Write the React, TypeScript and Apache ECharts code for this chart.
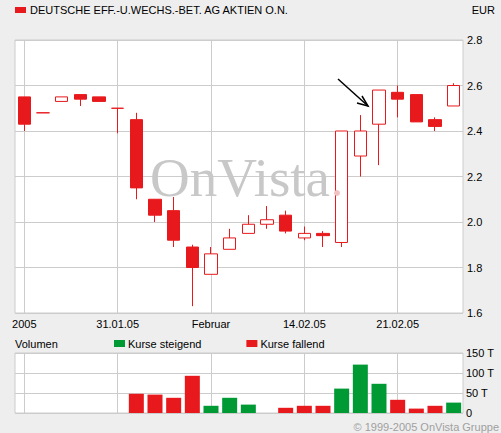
import React, { useEffect, useRef } from "react";
import * as echarts from "echarts";

const dates = [
  "24.01.05", "25.01.05", "26.01.05", "27.01.05", "28.01.05",
  "31.01.05", "01.02.05", "02.02.05", "03.02.05", "04.02.05",
  "07.02.05", "08.02.05", "09.02.05", "10.02.05", "11.02.05",
  "14.02.05", "15.02.05", "16.02.05", "17.02.05", "18.02.05",
  "21.02.05", "22.02.05", "23.02.05", "24.02.05",
];

const tickIndices = [0, 5, 10, 15, 20];
const tickLabels = ["2005", "31.01.05", "Februar", "14.02.05", "21.02.05"];

// [open, close, low, high]
const ohlc: number[][] = [
  [2.55, 2.43, 2.40, 2.55],
  [2.48, 2.48, 2.48, 2.48],
  [2.53, 2.55, 2.53, 2.55],
  [2.56, 2.54, 2.51, 2.56],
  [2.55, 2.53, 2.53, 2.55],
  [2.50, 2.50, 2.39, 2.50],
  [2.45, 2.15, 2.10, 2.48],
  [2.10, 2.03, 2.00, 2.10],
  [2.05, 1.92, 1.89, 2.11],
  [1.89, 1.80, 1.63, 1.90],
  [1.77, 1.86, 1.77, 1.89],
  [1.88, 1.93, 1.88, 1.97],
  [1.95, 1.99, 1.95, 2.03],
  [1.99, 2.01, 1.97, 2.07],
  [2.03, 1.96, 1.95, 2.05],
  [1.93, 1.95, 1.92, 1.98],
  [1.95, 1.94, 1.89, 1.96],
  [1.91, 2.40, 1.89, 2.40],
  [2.29, 2.40, 2.20, 2.47],
  [2.43, 2.58, 2.25, 2.58],
  [2.57, 2.54, 2.46, 2.60],
  [2.56, 2.44, 2.44, 2.56],
  [2.45, 2.42, 2.40, 2.46],
  [2.51, 2.60, 2.51, 2.61],
];

// volume in thousands (T)
const volRising: (number | null)[] = [
  null, null, null, null, null, null, null, null, null, null,
  18, 38, 21, null, null, null, null, 61, 121, 73, null, null, null, 26,
];
const volFalling: (number | null)[] = [
  null, null, null, null, null, null, 48, 46, 38, 93,
  null, null, null, null, 13, 18, 18, null, null, null, 33, 11, 18, null,
];

const priceTicks = { min: 1.6, max: 2.8, interval: 0.2 };
const volTicks = { min: 0, max: 150, interval: 50 };

const RED = "#e8191c";
const GREEN = "#009a35";
const GRID = "#cccccc";
const FONT = "Liberation Sans";

export default function App() {
  const ref = useRef<HTMLDivElement>(null);
  useEffect(() => {
    document.body.style.margin = "0";
    document.body.style.background = "#eeeeee";
    if (!ref.current) return;
    const chart = echarts.init(ref.current, null, { renderer: "svg" });
    const labelAt = (idx: number) => {
      const k = tickIndices.indexOf(idx);
      return k >= 0 ? tickLabels[k] : "";
    };
    const tickFn = (idx: number) => tickIndices.indexOf(idx) >= 0;
    chart.setOption({
      animation: false,
      backgroundColor: "#eeeeee",
      textStyle: { fontFamily: FONT },
      grid: [
        { left: 15, right: 38, top: 40, height: 273, show: true, backgroundColor: "#ffffff", borderColor: GRID, borderWidth: 1 },
        { left: 15, right: 38, top: 353, height: 60, show: true, backgroundColor: "#ffffff", borderColor: GRID, borderWidth: 1 },
      ],
      legend: {
        data: ["Kurse steigend", "Kurse fallend"],
        left: 114,
        top: 338,
        padding: 0,
        icon: "rect",
        itemWidth: 11,
        itemHeight: 7,
        itemGap: 45,
        selectedMode: false,
        textStyle: { fontSize: 11, color: "#000", fontFamily: FONT, padding: [0, 0, 0, -2] },
      },
      xAxis: [
        {
          type: "category",
          gridIndex: 0,
          data: dates,
          boundaryGap: true,
          axisLine: { show: false },
          axisTick: { show: false },
          axisLabel: { interval: tickFn, formatter: (_v: string, idx: number) => labelAt(idx), fontSize: 11, color: "#000", margin: 5, fontFamily: FONT },
          splitLine: { show: true, interval: tickFn, alignWithLabel: true, lineStyle: { color: GRID, width: 1 } },
        },
        {
          type: "category",
          gridIndex: 1,
          data: dates,
          boundaryGap: true,
          axisLine: { show: false },
          axisTick: { show: false },
          axisLabel: { show: false },
          splitLine: { show: true, interval: tickFn, alignWithLabel: true, lineStyle: { color: GRID, width: 1 } },
        },
      ],
      yAxis: [
        {
          type: "value",
          gridIndex: 0,
          position: "right",
          min: priceTicks.min,
          max: priceTicks.max,
          interval: priceTicks.interval,
          axisLine: { show: false },
          axisTick: { show: false },
          axisLabel: { formatter: (v: number) => v.toFixed(1), fontSize: 11, color: "#000", margin: 4, fontFamily: FONT },
          splitLine: { show: true, lineStyle: { color: GRID, width: 1 } },
        },
        {
          type: "value",
          gridIndex: 1,
          position: "right",
          min: volTicks.min,
          max: volTicks.max,
          interval: volTicks.interval,
          axisLine: { show: false },
          axisTick: { show: false },
          axisLabel: { formatter: (v: number) => (v === 0 ? "0" : v + " T"), fontSize: 11, color: "#000", margin: 3, fontFamily: FONT },
          splitLine: { show: true, lineStyle: { color: GRID, width: 1 } },
        },
      ],
      series: [
        {
          type: "candlestick",
          name: "Kurs",
          xAxisIndex: 0,
          yAxisIndex: 0,
          data: ohlc,
          barWidth: 13,
          z: 3,
          itemStyle: { color: "#ffffff", color0: RED, borderColor: RED, borderColor0: RED, borderWidth: 1 },
        },
        {
          type: "bar",
          name: "Kurse steigend",
          xAxisIndex: 1,
          yAxisIndex: 1,
          stack: "vol",
          data: volRising,
          barWidth: 15,
          itemStyle: { color: GREEN },
        },
        {
          type: "bar",
          name: "Kurse fallend",
          xAxisIndex: 1,
          yAxisIndex: 1,
          stack: "vol",
          data: volFalling,
          barWidth: 15,
          itemStyle: { color: RED },
        },
      ],
      graphic: [
        { type: "rect", shape: { x: 15, y: 7, width: 11, height: 6 }, style: { fill: RED } },
        { type: "text", x: 30, y: 10, style: { text: "DEUTSCHE EFF.-U.WECHS.-BET. AG AKTIEN O.N.", fill: "#000", font: `11px "${FONT}"`, verticalAlign: "middle" } },
        { type: "text", x: 495, y: 10, style: { text: "EUR", fill: "#000", font: `11px "${FONT}"`, align: "right", verticalAlign: "middle" } },
        { type: "text", x: 15, y: 344, style: { text: "Volumen", fill: "#000", font: `11px "${FONT}"`, verticalAlign: "middle" } },
        { type: "text", x: 499, y: 427, style: { text: "© 1999-2005 OnVista Gruppe", fill: "#a0a0a0", font: `11px "${FONT}"`, align: "right", verticalAlign: "middle" } },
        { type: "text", x: 150, y: 177, z: 1, style: { text: "OnVista", fill: "#c8c8c8", font: `55px "Liberation Serif"`, verticalAlign: "middle" } },
        { type: "circle", z: 5, shape: { cx: 337, cy: 193, r: 3 }, style: { fill: "#f2c2c2" } },
        { type: "line", z: 10, shape: { x1: 338, y1: 79, x2: 368, y2: 106 }, style: { stroke: "#000", lineWidth: 1.5 } },
        { type: "polyline", z: 10, shape: { points: [[362, 96], [368, 106], [357, 103]] }, style: { stroke: "#000", lineWidth: 1.5, fill: "none" } },
      ],
    });
    return () => chart.dispose();
  }, []);
  return <div ref={ref} style={{ width: 501, height: 433 }} />;
}
